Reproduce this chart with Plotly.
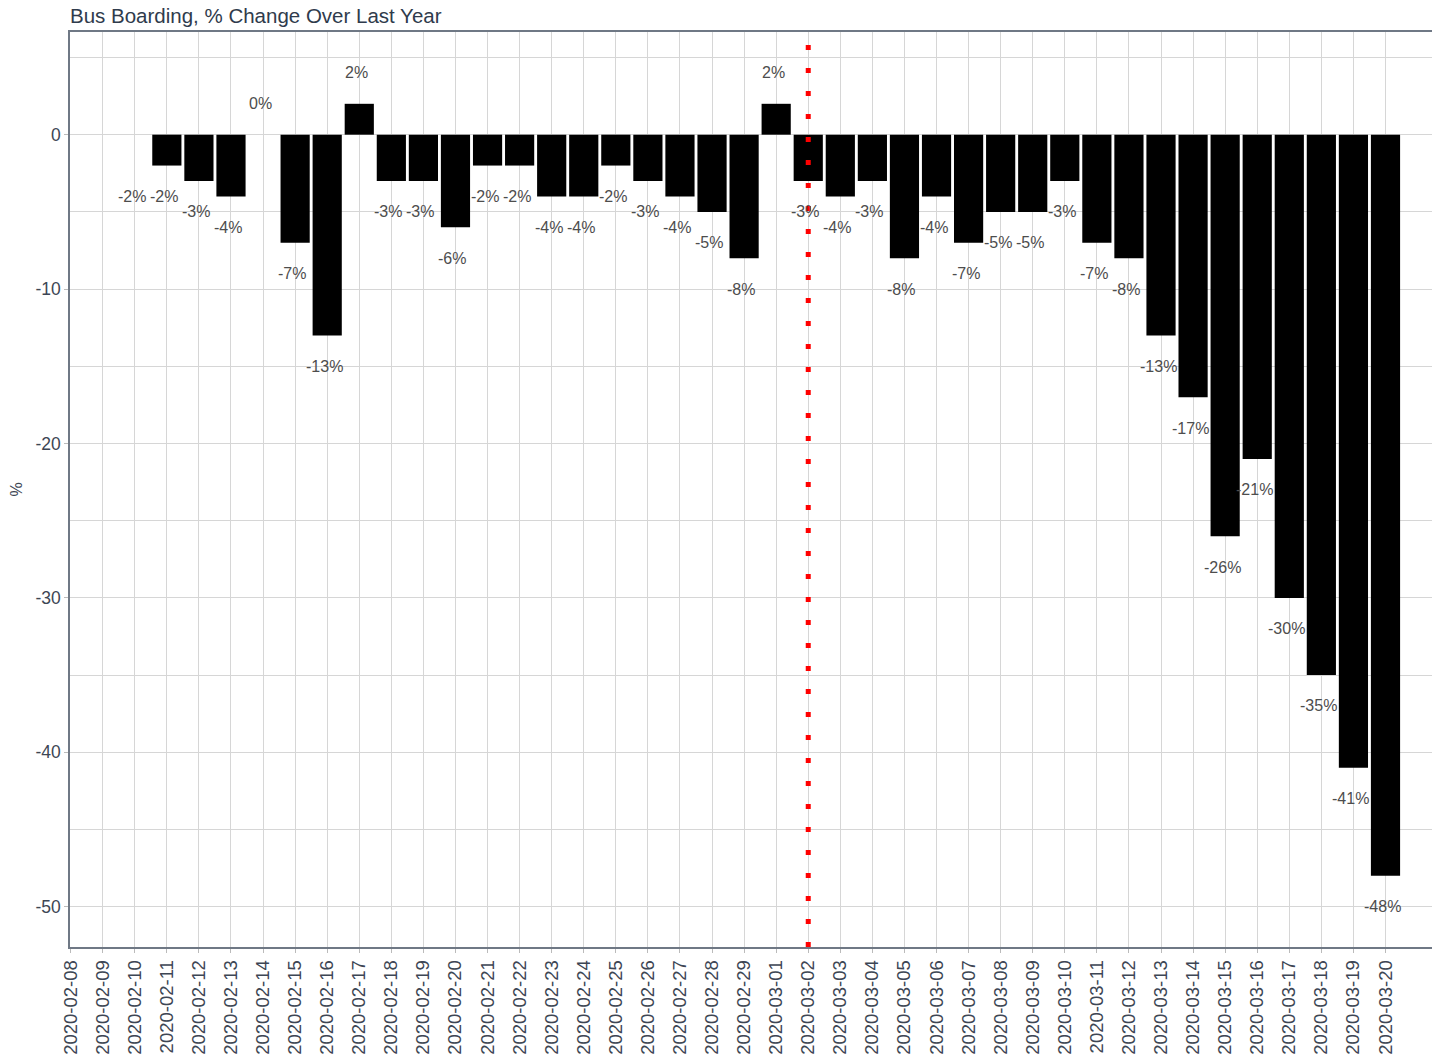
import plotly.graph_objects as go

dates = ["2020-02-08", "2020-02-09", "2020-02-10", "2020-02-11", "2020-02-12", "2020-02-13",
         "2020-02-14", "2020-02-15", "2020-02-16", "2020-02-17", "2020-02-18", "2020-02-19",
         "2020-02-20", "2020-02-21", "2020-02-22", "2020-02-23", "2020-02-24", "2020-02-25",
         "2020-02-26", "2020-02-27", "2020-02-28", "2020-02-29", "2020-03-01", "2020-03-02",
         "2020-03-03", "2020-03-04", "2020-03-05", "2020-03-06", "2020-03-07", "2020-03-08",
         "2020-03-09", "2020-03-10", "2020-03-11", "2020-03-12", "2020-03-13", "2020-03-14",
         "2020-03-15", "2020-03-16", "2020-03-17", "2020-03-18", "2020-03-19", "2020-03-20"]

bar_values = [None, None, None, -2, -3, -4,
              0, -7, -13, 2, -3, -3,
              -6, -2, -2, -4, -4, -2,
              -3, -4, -5, -8, 2, -3,
              -4, -3, -8, -4, -7, -5,
              -5, -3, -7, -8, -13, -17,
              -26, -21, -30, -35, -41, -48]

label_values = [None, None, -2, -2, -3, -4,
                0, -7, -13, 2, -3, -3,
                -6, -2, -2, -4, -4, -2,
                -3, -4, -5, -8, 2, -3,
                -4, -3, -8, -4, -7, -5,
                -5, -3, -7, -8, -13, -17,
                -26, -21, -30, -35, -41, -48]

y_tick_vals = [0, -10, -20, -30, -40, -50]
y_tick_text = ["0", "-10", "-20", "-30", "-40", "-50"]

marker_date = "2020-03-02"

title_text = "Bus Boarding, % Change Over Last Year"

FONT = "Liberation Sans, Arial, sans-serif"
GRID = "#d6d6d6"
BORDER = "#6f7885"
TEXT = "#3d4654"

W, H = 1432, 1057

fig = go.Figure()
fig.add_trace(go.Bar(
    x=dates, y=bar_values, width=0.91,
    marker=dict(color="black", line=dict(width=0)),
    hoverinfo="x+y", showlegend=False,
))

for d, v in zip(dates, label_values):
    if v is None:
        continue
    fig.add_annotation(
        x=d, y=(v + 2 if v >= 0 else v - 2), text=f"{v}%",
        showarrow=False, xshift=-3,
        font=dict(family=FONT, size=16, color="#4d4d4d"),
    )

idx = dates.index(marker_date)
fig.add_shape(type="line", xref="x", yref="paper", x0=idx, x1=idx, y0=0, y1=1,
              line=dict(color="red", width=5, dash="5px,18px"), layer="above")

fig.update_layout(
    width=W, height=H,
    margin=dict(l=70, r=0, t=32, b=110),
    plot_bgcolor="white", paper_bgcolor="white",
    font=dict(family=FONT, color=TEXT),
    title=dict(text=title_text, x=70 / W, xanchor="left", xref="container",
               y=1 - 16 / H, yanchor="middle", yref="container",
               font=dict(family=FONT, size=20.5, color="#2f3b4c")),
    bargap=0.09,
)

fig.update_xaxes(
    type="category", range=[-0.02, 42.45],
    tickangle=-90, tickfont=dict(family=FONT, size=18.5, color=TEXT),
    showgrid=True, gridcolor=GRID, gridwidth=1.3,
    showline=True, linecolor=BORDER, linewidth=1.5, mirror=True,
    ticks="outside", ticklen=4, tickcolor="#bbbbbb", automargin=False,
)
fig.update_yaxes(
    range=[-52.61, 6.65], tickvals=y_tick_vals, ticktext=y_tick_text,
    tickfont=dict(family=FONT, size=17.5, color=TEXT),
    showgrid=True, gridcolor=GRID, gridwidth=1.3, zeroline=False,
    minor=dict(dtick=5, tick0=0, showgrid=True, gridcolor=GRID, gridwidth=1.3),
    showline=True, linecolor=BORDER, linewidth=1.5, mirror=True,
    ticks="outside", ticklen=4, tickcolor="#bbbbbb", automargin=False,
    title=dict(text="%", standoff=9, font=dict(family=FONT, size=16, color=TEXT)),
)

fig.write_html(
    "out.html",
    config={"displayModeBar": False},
    post_script="document.body.style.margin='0';document.body.style.overflow='hidden';",
)
